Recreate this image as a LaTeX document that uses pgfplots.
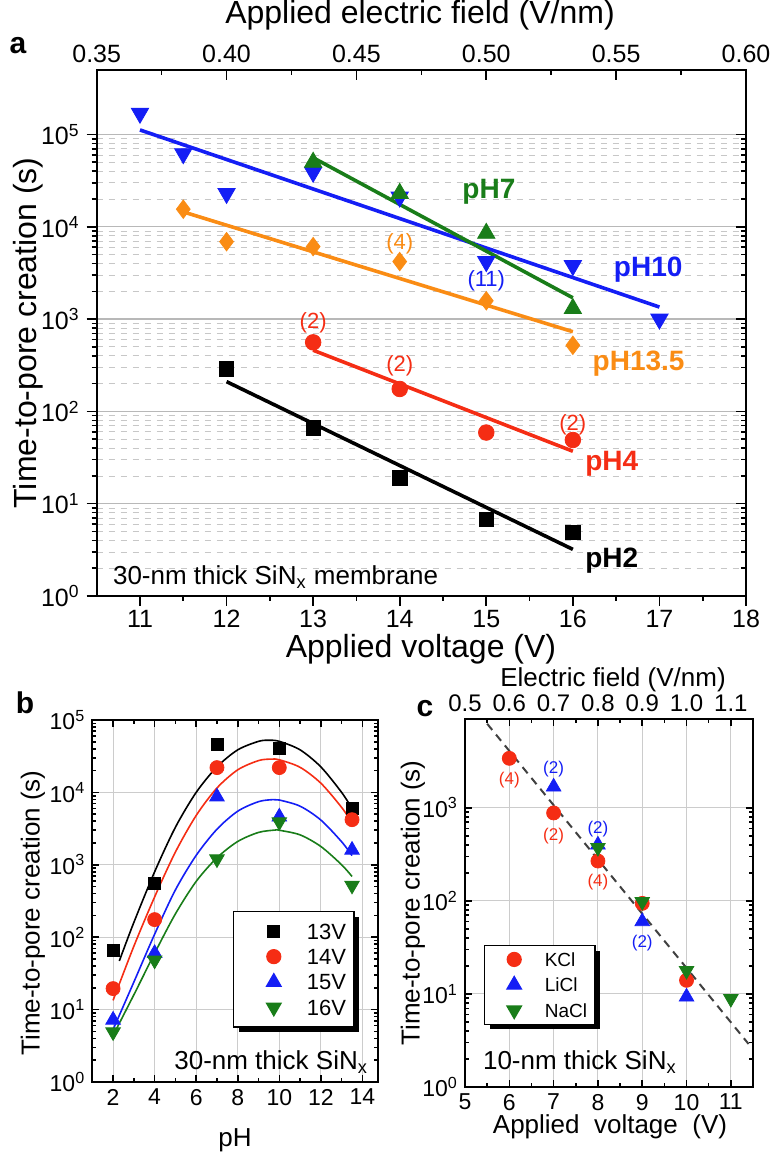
\documentclass[border=0pt]{standalone}
\usepackage{pgfplots}
\pgfplotsset{compat=1.18}
\usepackage{fontspec}
\setmainfont{Liberation Sans}
\usetikzlibrary{shadows}

\definecolor{cblue}{RGB}{20,30,245}
\definecolor{cgreen}{RGB}{25,125,25}
\definecolor{corange}{RGB}{250,140,20}
\definecolor{cred}{RGB}{245,45,20}
\newcommand{\fs}[1]{\fontsize{#1}{#1}\selectfont}

\pgfplotsset{
  decades/.style={ytick={1,10,100,1000,10000,100000},
    yticklabels={10\textsuperscript{0},10\textsuperscript{1},10\textsuperscript{2},
                 10\textsuperscript{3},10\textsuperscript{4},10\textsuperscript{5}}},
  panel/.style={scale only axis, anchor=south west, clip=false,
    axis line style={line width=1pt}, tick style={black, line width=0.8pt},
    /pgf/number format/assume math mode=true},
}

\begin{document}
\begin{tikzpicture}
\useasboundingbox (0,0) rectangle (390.5pt,580pt);

%% ---------------- panel a ----------------
\begin{axis}[panel,
  at={(48.35pt,282pt)}, width=324.65pt, height=263pt,
  xmin=10.5, xmax=18, ymode=log, ymin=1, ymax=5e5,
  xtick={11,12,...,18}, minor x tick num=1, decades,
  xtick pos=bottom, ytick pos=left, tick align=outside,
  major tick length=5pt, minor tick length=2.5pt,
  ymajorgrids, yminorgrids,
  major grid style={solid, black!28, line width=0.6pt},
  minor grid style={dashed, black!22, line width=0.4pt},
  tick label style={font=\fs{12.5}},
  xticklabel style={yshift=1.5pt},
]
% pH10
\addplot[cblue, line width=1.8pt] coordinates {(11,1.12e5) (17,1.35e3)};
\addplot[only marks, mark=triangle*, mark size=5pt, mark options={rotate=180, fill=cblue, draw=cblue}]
  coordinates {(11,1.7e5) (11.5,6.2e4) (12,2.3e4) (13,3.9e4) (14,2.1e4) (15,4.2e3) (16,3.8e3) (17,1.0e3)};
% pH7
\addplot[cgreen, line width=1.8pt] coordinates {(13,5.6e4) (16,1.7e3)};
\addplot[only marks, mark=triangle*, mark size=5pt, mark options={fill=cgreen, draw=cgreen}]
  coordinates {(13,5.0e4) (14,2.3e4) (15,8.5e3) (16,1.3e3)};
% pH13.5
\addplot[corange, line width=1.8pt] coordinates {(11.5,1.45e4) (16,7.3e2)};
\addplot[only marks, mark=diamond*, mark size=4.6pt, mark options={fill=corange, draw=corange}]
  coordinates {(11.5,1.55e4) (12,6.9e3) (13,6.1e3) (14,4.2e3) (15,1.58e3) (16,5.2e2)};
% pH4
\addplot[cred, line width=1.8pt] coordinates {(13,4.6e2) (16,37)};
\addplot[only marks, mark=*, mark size=3.9pt, mark options={fill=cred, draw=cred}]
  coordinates {(13,5.6e2) (14,1.75e2) (15,59) (16,49)};
% pH2
\addplot[black, line width=1.8pt] coordinates {(12,2.1e2) (16,3.2)};
\addplot[only marks, mark=square*, mark size=3.6pt, mark options={fill=black, draw=black}]
  coordinates {(12,2.9e2) (13,66) (14,19) (15,6.8) (16,4.9)};

\node[font=\bfseries\fs{14}, text=cgreen] at (axis cs:15.03,2.4e4) {pH7};
\node[font=\bfseries\fs{14}, text=cblue] at (axis cs:16.87,3.4e3) {pH10};
\node[font=\bfseries\fs{14}, text=corange] at (axis cs:16.76,3.3e2) {pH13.5};
\node[font=\bfseries\fs{14}, text=cred] at (axis cs:16.45,27) {pH4};
\node[font=\bfseries\fs{14}, text=black] at (axis cs:16.45,2.4) {pH2};
\node[font=\fs{11}, text=corange] at (axis cs:14,6.6e3) {(4)};
\node[font=\fs{11}, text=cblue] at (axis cs:15,2.6e3) {(11)};
\node[font=\fs{11}, text=cred] at (axis cs:13,9.2e2) {(2)};
\node[font=\fs{11}, text=cred] at (axis cs:14,3.1e2) {(2)};
\node[font=\fs{11}, text=cred] at (axis cs:16,72) {(2)};
\end{axis}

\begin{axis}[panel,
  at={(48.35pt,282pt)}, width=324.65pt, height=263pt,
  xmin=0.35, xmax=0.6, ymode=log, ymin=1, ymax=5e5,
  xtick={0.35,0.4,0.45,0.5,0.55,0.6},
  xticklabels={0.35,0.40,0.45,0.50,0.55,0.60}, minor x tick num=1,
  ytick={1,10,100,1000,10000,100000}, yticklabels={},
  xtick pos=top, xticklabel pos=upper, ytick pos=right, tick align=inside,
  major tick length=5pt, minor tick length=2.5pt,
  tick label style={font=\fs{12.5}},
]
\end{axis}

%% ---------------- panel b ----------------
\begin{axis}[panel,
  at={(46.15pt,39pt)}, width=142.85pt, height=181pt,
  xmin=1, xmax=14.75, ymode=log, ymin=1, ymax=1e5,
  xtick={2,4,...,14}, minor x tick num=1, decades,
  tick align=inside, major tick length=3.5pt, minor tick length=2pt,
  grid=major, major grid style={solid, black!20, line width=0.5pt},
  tick label style={font=\fs{11.5}},
  legend style={at={(0.4925,0.472)}, anchor=north west, draw=black, fill=white,
    line width=0.6pt, font=\fs{11}, inner xsep=2pt, inner ysep=3.4pt,
    row sep=0pt, column sep=0pt,
    nodes={inner xsep=2pt, inner ysep=2.4pt, text height=7.9pt, text depth=0pt},
    drop shadow={shadow xshift=2.5pt, shadow yshift=-2.5pt, fill=black, opacity=1}},
  legend cell align=left,
  legend image code/.code={\path (0pt,0pt) (32pt,0pt);
    \draw[#1] plot coordinates {(17.8pt,0pt)};},
]
\addplot[black, line width=0.8pt, smooth, forget plot] coordinates {(2.3,47) (3,160) (4,800) (5,3300) (6,10000) (7,22500) (8,38700) (9,50700) (9.5,52500) (10,50700) (11,38700) (12,22500) (13,10000) (13.5,6000)};
\addplot[cred, line width=0.8pt, smooth, forget plot] coordinates {(2,13.4) (3,75) (4,360) (5,1500) (6,4800) (7,11500) (8,20500) (9,27500) (9.6,28800) (10,28200) (11,22200) (12,13400) (13,6200) (13.5,3800)};
\addplot[cblue, line width=0.8pt, smooth, forget plot] coordinates {(2,5.3) (3,24) (4,110) (5,450) (6,1350) (7,3100) (8,5500) (9,7450) (9.7,7950) (10,7850) (11,6450) (12,4150) (13,2080) (13.5,1340)};
\addplot[cgreen, line width=0.8pt, smooth, forget plot] coordinates {(2.1,5) (3,16) (4,60) (5,210) (6,590) (7,1250) (8,2100) (9,2800) (9.8,3020) (10,3000) (11,2590) (12,1790) (13,1000) (13.5,690)};
\addplot[only marks, mark=square*, mark size=3pt, mark options={fill=black, draw=black}]
  coordinates {(2,66) (4,560) (7,4.6e4) (10,4e4) (13.5,6.1e3)};
\addplot[only marks, mark=*, mark size=3.5pt, mark options={fill=cred, draw=cred}]
  coordinates {(2,19.5) (4,175) (7,2.2e4) (10,2.2e4) (13.5,4.2e3)};
\addplot[only marks, mark=triangle*, mark size=4.2pt, mark options={fill=cblue, draw=cblue}]
  coordinates {(2,7.2) (4,60) (7,8.7e3) (10,4.6e3) (13.5,1.6e3)};
\addplot[only marks, mark=triangle*, mark size=4.2pt, mark options={rotate=180, fill=cgreen, draw=cgreen}]
  coordinates {(2,4.9) (4,48) (7,1.2e3) (10,3.9e3) (13.5,5.2e2)};
\legend{13V,14V,15V,16V}
\end{axis}

%% ---------------- panel c ----------------
\begin{axis}[panel,
  at={(232.5pt,36.5pt)}, width=144pt, height=184pt,
  xmin=5, xmax=11.5, ymode=log, ymin=1, ymax=9000,
  xtick={5,6,...,11}, minor x tick num=1,
  ytick={1,10,100,1000},
  yticklabels={10\textsuperscript{0},10\textsuperscript{1},10\textsuperscript{2},10\textsuperscript{3}},
  tick align=inside, major tick length=3.5pt, minor tick length=2pt,
  grid=major, major grid style={solid, black!20, line width=0.5pt},
  tick label style={font=\fs{11.5}},
  legend style={at={(0.066,0.386)}, anchor=north west, draw=black, fill=white,
    line width=0.6pt, font=\fs{9.5}, inner xsep=2pt, inner ysep=0.6pt,
    row sep=0pt, column sep=0pt,
    nodes={inner xsep=2pt, inner ysep=2.9pt, text height=6.9pt, text depth=0pt},
    drop shadow={shadow xshift=2.5pt, shadow yshift=-2.5pt, fill=black, opacity=1}},
  legend cell align=left,
  legend image code/.code={\path (0pt,0pt) (25.5pt,0pt);
    \draw[#1] plot coordinates {(12.5pt,0pt)};},
]
\addplot[black!75, line width=1pt, dash pattern=on 4pt off 3pt, forget plot] coordinates {(5.5,8000) (11.4,2.9)};
\addplot[only marks, mark=*, mark size=3.5pt, mark options={fill=cred, draw=cred}]
  coordinates {(6,3400) (7,880) (8,268) (9,94) (10,14)};
\addplot[only marks, mark=triangle*, mark size=4.2pt, mark options={fill=cblue, draw=cblue}]
  coordinates {(7,1680) (8,400) (9,60) (10,9.3)};
\addplot[only marks, mark=triangle*, mark size=4.2pt, mark options={rotate=180, fill=cgreen, draw=cgreen}]
  coordinates {(8,373) (9,98) (10,17.8) (11,8.9)};
\legend{KCl,LiCl,NaCl}
\node[font=\fs{8.5}, text=cred] at (axis cs:6,2000) {(4)};
\node[font=\fs{8.5}, text=cblue] at (axis cs:7,2600) {(2)};
\node[font=\fs{8.5}, text=cred] at (axis cs:7,500) {(2)};
\node[font=\fs{8.5}, text=cblue] at (axis cs:8,590) {(2)};
\node[font=\fs{8.5}, text=cred] at (axis cs:8,160) {(4)};
\node[font=\fs{8.5}, text=cblue] at (axis cs:9,35) {(2)};
\end{axis}

\begin{axis}[panel,
  at={(232.5pt,36.5pt)}, width=144pt, height=184pt,
  xmin=0.5, xmax=1.15, ymode=log, ymin=1, ymax=9000,
  xtick={0.5,0.6,0.7,0.8,0.9,1.0,1.1},
  xticklabels={0.5,0.6,0.7,0.8,0.9,1.0,1.1},
  ytick=\empty, xtick pos=top, xticklabel pos=upper,
  major tick length=0pt, minor tick length=0pt,
  tick label style={font=\fs{12}},
]
\end{axis}

%% ---------------- titles and notes ----------------
\node[font=\fs{16}] at (210pt,572.5pt) {Applied electric field (V/nm)};
\node[font=\bfseries\fs{15}] at (9pt,557pt) {a};
\node[font=\fs{16}, rotate=90] at (14pt,413.5pt) {Time-to-pore creation (s)};
\node[font=\fs{16}] at (210.5pt,255.5pt) {Applied voltage (V)};
\node[font=\fs{13}, anchor=west] at (53pt,291.5pt) {30-nm thick SiN\textsubscript{x} membrane};

\node[font=\bfseries\fs{15}] at (12.5pt,228.5pt) {b};
\node[font=\fs{13}, rotate=90] at (16.5pt,123.5pt) {Time-to-pore creation (s)};
\node[font=\fs{13}] at (117.5pt,10pt) {pH};
\node[font=\fs{13}, anchor=east] at (187.5pt,49pt) {30-nm thick SiN\textsubscript{x}};

\node[font=\bfseries\fs{15}] at (212.5pt,225.5pt) {c};
\node[font=\fs{13}, rotate=90] at (206.5pt,128.5pt) {Time-to-pore creation (s)};
\node[font=\fs{13}] at (305pt,16.5pt) {Applied\ \ voltage\ \ (V)};
\node[font=\fs{13}] at (306.5pt,240pt) {Electric field (V/nm)};
\node[font=\fs{13}, anchor=west] at (238pt,49pt) {10-nm thick SiN\textsubscript{x}};
\end{tikzpicture}
\end{document}
